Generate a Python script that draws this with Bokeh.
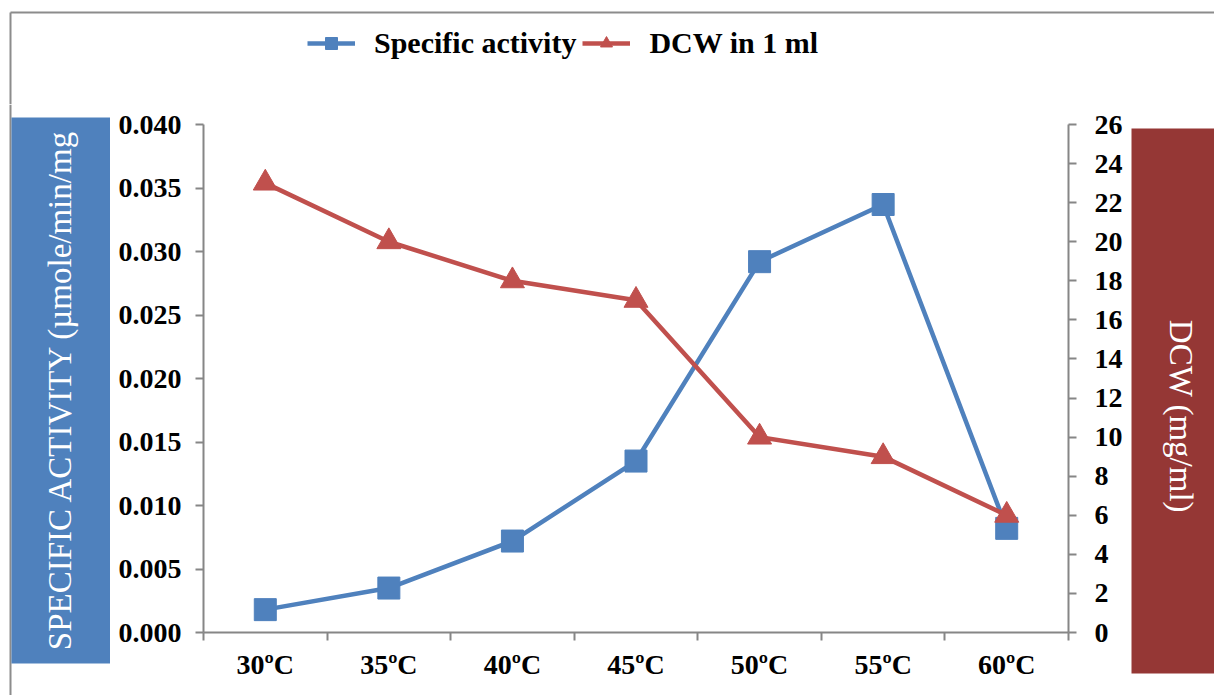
import math
from bokeh.plotting import figure
from bokeh.layouts import column, row
from bokeh.models import (Range1d, LinearAxis, FixedTicker, NumeralTickFormatter,
                          Legend, LegendItem, ColumnDataSource, LinearScale)
from bokeh.core.properties import value
from bokeh.embed import file_html
from bokeh.resources import INLINE

# ---- data ----
temperatures = ["30ºC", "35ºC", "40ºC", "45ºC", "50ºC", "55ºC", "60ºC"]
specific_activity = [0.0018, 0.0035, 0.0072, 0.0135, 0.0292, 0.0337, 0.0082]
dcw_in_1ml = [23, 20, 18, 17, 10, 9, 6]
left_ticks = [0.000, 0.005, 0.010, 0.015, 0.020, 0.025, 0.030, 0.035, 0.040]
right_ticks = [0, 2, 4, 6, 8, 10, 12, 14, 16, 18, 20, 22, 24, 26]
series_names = ["Specific activity", "DCW in 1 ml"]
left_title = "SPECIFIC ACTIVITY (µmole/min/mg"
right_title = "DCW (mg/ml)"

BLUE = "#4F81BD"
RED = "#C0504D"
DARKRED = "#953735"
GREY = "#868686"
FRAME = "#8c8c8c"
FONT = "Liberation Serif"


def no_align(f):
    if "frame_align" in f.properties():
        f.frame_align = False
    return f


def deco_fig(w, h):
    """A figure whose frame covers all of it, with pixel-like ranges (y downwards)."""
    f = figure(width=w, height=h, output_backend="svg", toolbar_location=None,
               x_range=Range1d(0, w), y_range=Range1d(h, 0),
               x_axis_location=None, y_axis_location=None, min_border=0)
    f.min_border_left = f.min_border_right = f.min_border_top = f.min_border_bottom = 0
    f.outline_line_color = None
    f.xgrid.visible = False
    f.ygrid.visible = False
    f.background_fill_color = "white"
    f.border_fill_color = "white"
    return no_align(f)


# category slots: each temperature sits in the middle of its own unit-wide slot
centres = [i + 0.5 for i in range(len(temperatures))]
bounds = [float(i) for i in range(len(temperatures) + 1)]
src = ColumnDataSource(dict(x=centres, t=temperatures, sa=specific_activity, dcw=dcw_in_1ml))

# ---------------- main chart ----------------
p = figure(width=1018, height=591, output_backend="svg", toolbar_location=None,
           x_range=Range1d(0, len(temperatures)), y_range=Range1d(0, 0.04),
           x_axis_location=None, y_axis_location=None,
           min_border_left=93, min_border_right=60, min_border_top=20, min_border_bottom=63)
no_align(p)
p.outline_line_color = None
p.xgrid.visible = False
p.ygrid.visible = False
p.background_fill_color = "white"
p.border_fill_color = "white"
p.extra_y_ranges = {"dcw": Range1d(0, 26)}
p.extra_y_scales = {"dcw": LinearScale()}

ly = LinearAxis(ticker=FixedTicker(ticks=left_ticks, minor_ticks=[]),
                formatter=NumeralTickFormatter(format="0.000"))
ry = LinearAxis(y_range_name="dcw", ticker=FixedTicker(ticks=right_ticks, minor_ticks=[]))
bx = LinearAxis(ticker=FixedTicker(ticks=centres, minor_ticks=bounds),
                major_label_overrides={c: t for c, t in zip(centres, temperatures)})
for ax in (ly, ry, bx):
    ax.axis_line_color = GREY
    ax.axis_line_width = 2
    ax.major_tick_line_color = GREY
    ax.major_tick_line_width = 2
    ax.major_tick_in = 0
    ax.major_tick_out = 8
    ax.minor_tick_line_color = None
    ax.major_label_text_font = FONT
    ax.major_label_text_font_style = "bold"
    ax.major_label_text_font_size = "28px"
    ax.major_label_text_color = "black"
ly.major_label_standoff = 14
ry.major_label_standoff = 18
bx.major_tick_out = 0
bx.minor_tick_line_color = GREY
bx.minor_tick_line_width = 2
bx.minor_tick_in = 0
bx.minor_tick_out = 8
bx.major_label_standoff = 8
p.add_layout(ly, "left")
p.add_layout(ry, "right")
p.add_layout(bx, "below")

p.line("x", "sa", source=src, line_color=BLUE, line_width=4.5)
p.scatter("x", "sa", source=src, marker="square", size=22, fill_color=BLUE, line_color=BLUE)
p.line("x", "dcw", source=src, y_range_name="dcw", line_color=RED, line_width=4.5)
p.scatter("x", "dcw", source=src, y_range_name="dcw", marker="triangle", size=24,
          fill_color=RED, line_color=RED)

# ---------------- top strip: frame edge + legend ----------------
top = deco_fig(1214, 104)
top.segment(x0=[10, 10], y0=[12, 12], x1=[1214, 10], y1=[12, 104], line_color=FRAME, line_width=2)
# legend-only renderers, their single point lies outside the visible strip
off = ColumnDataSource(dict(x=[-500, -400], y=[-500, -500]))
lb1 = top.line("x", "y", source=off, line_color=BLUE, line_width=4.5)
lb2 = top.scatter("x", "y", source=off, marker="square", size=17, fill_color=BLUE, line_color=BLUE)
lr1 = top.line("x", "y", source=off, line_color=RED, line_width=4.5)
lr2 = top.scatter("x", "y", source=off, marker="triangle", size=19, fill_color=RED, line_color=RED)
legend = Legend(items=[LegendItem(label=series_names[0], renderers=[lb1, lb2]),
                       LegendItem(label=series_names[1], renderers=[lr1, lr2])],
                location=(307, 44), orientation="horizontal",
                glyph_width=48, glyph_height=30, label_height=30, label_standoff=19,
                spacing=6, padding=0, margin=0,
                label_text_font=FONT, label_text_font_style="bold", label_text_font_size="30px",
                label_text_color="black",
                border_line_color=None, background_fill_alpha=0)
top.add_layout(legend, "center")

# ---------------- left strip: blue title box ----------------
left = deco_fig(110, 591)
left.segment(x0=[10], y0=[0], x1=[10], y1=[591], line_color=FRAME, line_width=2)
left.quad(left=[11], right=[110], top=[13], bottom=[559], fill_color=BLUE, line_color=None)
left.text(x=[59], y=[285], text=[left_title], angle=math.pi / 2,
          text_align="center", text_baseline="middle", text_color="white",
          text_font=value(FONT), text_font_size="33px")

# ---------------- right strip: dark red title box ----------------
right = deco_fig(86, 591)
right.quad(left=[3], right=[86], top=[24], bottom=[569], fill_color=DARKRED, line_color=None)
right.text(x=[52], y=[312], text=[right_title], angle=-math.pi / 2,
           text_align="center", text_baseline="middle", text_color="white",
           text_font=value(FONT), text_font_size="33px")

layout = column(top, row(left, p, right, spacing=0), spacing=0)
open("out.html", "w").write(file_html(layout, INLINE))
